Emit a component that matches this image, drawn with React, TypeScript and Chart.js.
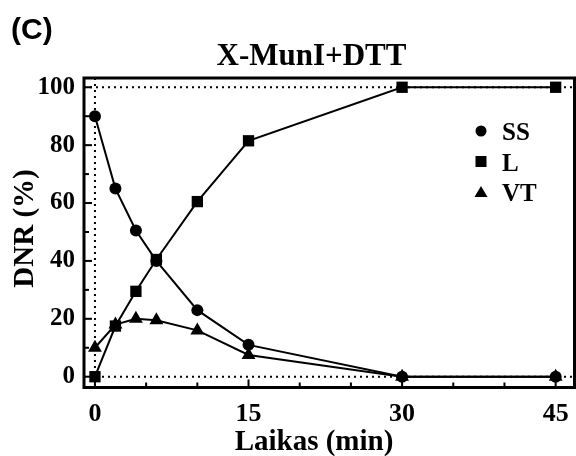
import React, { useEffect, useRef } from "react";
import { Chart, registerables } from "chart.js";

Chart.register(...registerables);

// ---- data ----
const times = [0, 2, 4, 6, 10, 15, 30, 45];
const ssValues = [90, 65, 50.5, 40, 23, 11, 0, 0];
const lValues = [0, 17.5, 29.5, 40.5, 60.5, 81.5, 100, 100];
const vtValues = [10, 18, 20, 19.5, 16, 7.5, 0, 0];
const seriesNames = ["SS", "L", "VT"];
const seriesStyles = ["circle", "rect", "triangle"];
const xTickValues = [0, 15, 30, 45];
const xMinorTicks = [5, 10, 20, 25, 35, 40];
const yTickValues = [0, 20, 40, 60, 80, 100];
const yMinorTicks = [10, 30, 50, 70, 90];
const refLinesY = [0, 100];
const refLinesX = [0];
const chartTitle = "X-MunI+DTT";
const panelLabel = "(C)";
const xTitle = "Laikas (min)";
const yTitle = "DNR (%)";

const SERIF = "'Liberation Serif', 'Times New Roman', serif";
const SANS = "'Liberation Sans', Arial, sans-serif";

function drawMarker(ctx: CanvasRenderingContext2D, style: string, x: number, y: number, s: number) {
  ctx.beginPath();
  if (style === "circle") {
    ctx.arc(x, y, s / 2, 0, Math.PI * 2);
  } else if (style === "rect") {
    ctx.rect(x - s / 2, y - s / 2, s, s);
  } else {
    const h = s * 0.9;
    ctx.moveTo(x, y - h / 2 - 1);
    ctx.lineTo(x + s / 2 + 1, y + h / 2);
    ctx.lineTo(x - s / 2 - 1, y + h / 2);
    ctx.closePath();
  }
  ctx.fill();
}

const decorPlugin = {
  id: "decor",
  beforeDatasetsDraw(chart: any) {
    const { ctx, chartArea: a, scales } = chart;
    const x = scales.x;
    const y = scales.y;
    ctx.save();
    ctx.strokeStyle = "#000";
    ctx.lineWidth = 2;
    ctx.setLineDash([2, 4]);
    refLinesY.forEach((v) => {
      const py = y.getPixelForValue(v);
      ctx.beginPath();
      ctx.moveTo(a.left, py);
      ctx.lineTo(a.right, py);
      ctx.stroke();
    });
    refLinesX.forEach((v) => {
      const px = x.getPixelForValue(v);
      ctx.beginPath();
      ctx.moveTo(px, a.top);
      ctx.lineTo(px, a.bottom);
      ctx.stroke();
    });
    ctx.restore();
  },
  afterDraw(chart: any) {
    const { ctx, chartArea: a, scales } = chart;
    const x = scales.x;
    const y = scales.y;
    ctx.save();
    ctx.strokeStyle = "#000";
    ctx.fillStyle = "#000";
    // inward ticks
    ctx.lineWidth = 2;
    yTickValues.forEach((v) => {
      const py = y.getPixelForValue(v);
      ctx.beginPath();
      ctx.moveTo(a.left, py);
      ctx.lineTo(a.left + 8, py);
      ctx.stroke();
    });
    yMinorTicks.forEach((v) => {
      const py = y.getPixelForValue(v);
      ctx.beginPath();
      ctx.moveTo(a.left, py);
      ctx.lineTo(a.left + 5, py);
      ctx.stroke();
    });
    xTickValues.forEach((v) => {
      const px = x.getPixelForValue(v);
      ctx.beginPath();
      ctx.moveTo(px, a.bottom);
      ctx.lineTo(px, a.bottom - 8);
      ctx.stroke();
    });
    xMinorTicks.forEach((v) => {
      const px = x.getPixelForValue(v);
      ctx.beginPath();
      ctx.moveTo(px, a.bottom);
      ctx.lineTo(px, a.bottom - 5);
      ctx.stroke();
    });
    // frame
    ctx.lineWidth = 3;
    ctx.strokeRect(a.left, a.top, a.right - a.left, a.bottom - a.top);

    // legend
    const lgX = 481;
    const lgY0 = 131;
    const lgStep = 30.5;
    ctx.font = `bold 25px ${SERIF}`;
    ctx.textAlign = "left";
    ctx.textBaseline = "alphabetic";
    seriesNames.forEach((name, i) => {
      const cy = lgY0 + i * lgStep;
      drawMarker(ctx, seriesStyles[i], lgX, cy, 11);
      ctx.fillText(name, 502, cy + 9);
    });

    // texts
    ctx.font = `bold 31px ${SERIF}`;
    ctx.textAlign = "center";
    ctx.fillText(chartTitle, 311.5, 65);
    ctx.font = `bold 30px ${SANS}`;
    ctx.textAlign = "left";
    ctx.fillText(panelLabel, 11, 38.5);
    ctx.font = `bold 29px ${SERIF}`;
    ctx.textAlign = "center";
    ctx.fillText(xTitle, 314, 450);
    ctx.translate(33, 228.5);
    ctx.rotate(-Math.PI / 2);
    ctx.fillText(yTitle, 0, 0);
    ctx.restore();
  },
};

export default function App() {
  const ref = useRef<HTMLCanvasElement | null>(null);
  useEffect(() => {
    if (!ref.current) return;
    const mk = (label: string, values: number[], style: string, radius: number, order: number) => ({
      label,
      data: times.map((t, i) => ({ x: t, y: values[i] })),
      showLine: true,
      borderColor: "#000",
      backgroundColor: "#000",
      borderWidth: 2,
      pointStyle: style,
      pointRadius: radius,
      pointHoverRadius: radius,
      pointBorderWidth: 0,
      pointBackgroundColor: "#000",
      clip: false,
      order,
    });
    const chart = new Chart(ref.current, {
      type: "scatter",
      data: {
        datasets: [
          mk(seriesNames[0], ssValues, "circle", 6, 2),
          mk(seriesNames[1], lValues, "rect", 8, 1),
          mk(seriesNames[2], vtValues, "triangle", 8, 3),
        ],
      },
      options: {
        responsive: false,
        animation: false,
        events: [],
        layout: { autoPadding: false, padding: { top: 78, right: 1.5, left: 0, bottom: 0 } },
        plugins: {
          legend: { display: false },
          title: { display: false },
          tooltip: { enabled: false },
        },
        scales: {
          x: {
            type: "linear",
            min: -1.07,
            max: 46.84,
            grid: { display: false, drawTicks: false },
            border: { display: false },
            afterBuildTicks: (s: any) => {
              s.ticks = xTickValues.map((v) => ({ value: v }));
            },
            afterFit: (s: any) => {
              s.height = 68.5;
              s.paddingLeft = 0;
              s.paddingRight = 0;
            },
            ticks: {
              color: "#000",
              padding: 11,
              maxRotation: 0,
              autoSkip: false,
              font: { family: SERIF, size: 26, weight: "bold" },
            },
          },
          y: {
            type: "linear",
            min: -3.73,
            max: 103.2,
            grid: { display: false, drawTicks: false },
            border: { display: false },
            afterBuildTicks: (s: any) => {
              s.ticks = yTickValues.map((v) => ({ value: v }));
            },
            afterFit: (s: any) => {
              s.width = 84;
              s.paddingTop = 0;
              s.paddingBottom = 0;
            },
            ticks: {
              color: "#000",
              padding: 9,
              autoSkip: false,
              font: { family: SERIF, size: 25, weight: "bold" },
            },
          },
        },
      },
      plugins: [decorPlugin],
    } as any);
    return () => chart.destroy();
  }, []);
  return (
    <div style={{ position: "absolute", left: 0, top: 0, width: 576, height: 456, background: "#fff" }}>
      <canvas ref={ref} width={576} height={456} style={{ display: "block" }} />
    </div>
  );
}
